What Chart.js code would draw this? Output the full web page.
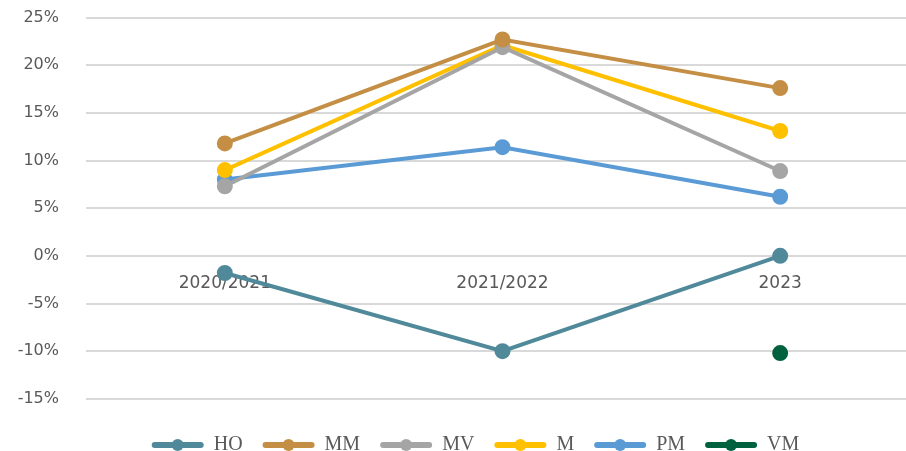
<!DOCTYPE html>
<html>
<head>
<meta charset="utf-8">
<script src="https://cdn.jsdelivr.net/npm/chart.js@4"></script>
<style>
  html, body { margin: 0; padding: 0; background: #fff; overflow: hidden; }
  #wrap { width: 929px; height: 470px; margin-top: -19px; }
</style>
</head>
<body>
<div id="wrap"><canvas id="chart" width="929" height="470"></canvas></div>
<script>
const labels = ["2020/2021", "2021/2022", "2023"];

const hoValues = [-1.8, -10.0, 0.0];
const mmValues = [11.8, 22.7, 17.6];
const mvValues = [7.3, 21.9, 8.9];
const mValues = [9.0, 22.1, 13.1];
const pmValues = [8.0, 11.4, 6.2];
const vmValues = [null, null, -10.2];

const yTicks = [-15, -10, -5, 0, 5, 10, 15, 20, 25];

const BOX_W = 52;
const LEGEND_SHIFT = 11;

function series(label, data, color) {
  return {
    label: label,
    data: data,
    borderColor: color,
    backgroundColor: color,
    pointBackgroundColor: color,
    pointBorderColor: color,
    borderWidth: 4,
    pointRadius: 6,
    pointHoverRadius: 6,
    tension: 0,
  };
}

// moves the legend a little to the right, like in the original
const legendShift = {
  id: "legendShift",
  afterLayout(chart) {
    const legend = chart.legend;
    if (!legend) return;
    legend.left += LEGEND_SHIFT;
    legend.right += LEGEND_SHIFT;
    (legend.legendHitBoxes || []).forEach((b) => {
      b.left += LEGEND_SHIFT;
    });
  },
};

// draws the circle in the middle of each legend line
const legendDots = {
  id: "legendDots",
  afterDraw(chart) {
    const legend = chart.legend;
    if (!legend || !legend.legendHitBoxes) return;
    const ctx = chart.ctx;
    legend.legendHitBoxes.forEach((box, i) => {
      const ds = chart.data.datasets[i];
      ctx.save();
      ctx.fillStyle = ds.borderColor;
      ctx.beginPath();
      ctx.arc(box.left + BOX_W / 2, box.top + box.height / 2, 6, 0, Math.PI * 2);
      ctx.fill();
      ctx.restore();
    });
  },
};

new Chart(document.getElementById("chart"), {
  type: "line",
  data: {
    labels: labels,
    datasets: [
      series("HO", hoValues, "#508A9A"),
      series("MM", mmValues, "#C48F45"),
      series("MV", mvValues, "#A5A5A5"),
      series("M", mValues, "#FFC000"),
      series("PM", pmValues, "#5B9BD5"),
      series("VM", vmValues, "#00613F"),
    ],
  },
  options: {
    responsive: false,
    animation: false,
    layout: { padding: { top: 8, left: 0, right: 0, bottom: -14 } },
    plugins: {
      legend: {
        display: true,
        position: "bottom",
        title: { display: true, text: "", padding: { top: 15, bottom: 0 }, font: { size: 1 } },
        labels: {
          boxWidth: BOX_W,
          boxHeight: 6,
          padding: 20,
          useBorderRadius: true,
          borderRadius: 3,
          color: "#595959",
          font: { family: "'Liberation Serif', 'DejaVu Serif', serif", size: 20 },
          generateLabels(chart) {
            return chart.data.datasets.map((ds, i) => ({
              text: ds.label,
              fillStyle: ds.borderColor,
              strokeStyle: ds.borderColor,
              lineWidth: 0,
              borderRadius: 3,
              fontColor: "#595959",
              datasetIndex: i,
            }));
          },
        },
      },
      tooltip: { enabled: false },
    },
    scales: {
      x: {
        position: { y: 0 },
        offset: true,
        grid: { display: false },
        border: { display: false },
        afterFit(scale) {
          scale.height = 0;
        },
        ticks: {
          color: "#595959",
          padding: 10,
          font: { family: "'DejaVu Sans', sans-serif", size: 17 },
        },
      },
      y: {
        min: -15,
        max: 25,
        afterBuildTicks(scale) {
          scale.ticks = yTicks.map((v) => ({ value: v }));
        },
        afterFit(scale) {
          scale.width = 86;
        },
        grid: { color: "#D9D9D9", lineWidth: 2, drawTicks: false },
        border: { display: false },
        ticks: {
          color: "#595959",
          padding: 27,
          font: { family: "'DejaVu Sans', sans-serif", size: 16 },
          callback: (v) => v + "%",
        },
      },
    },
  },
  plugins: [legendShift, legendDots],
});
</script>
</body>
</html>
